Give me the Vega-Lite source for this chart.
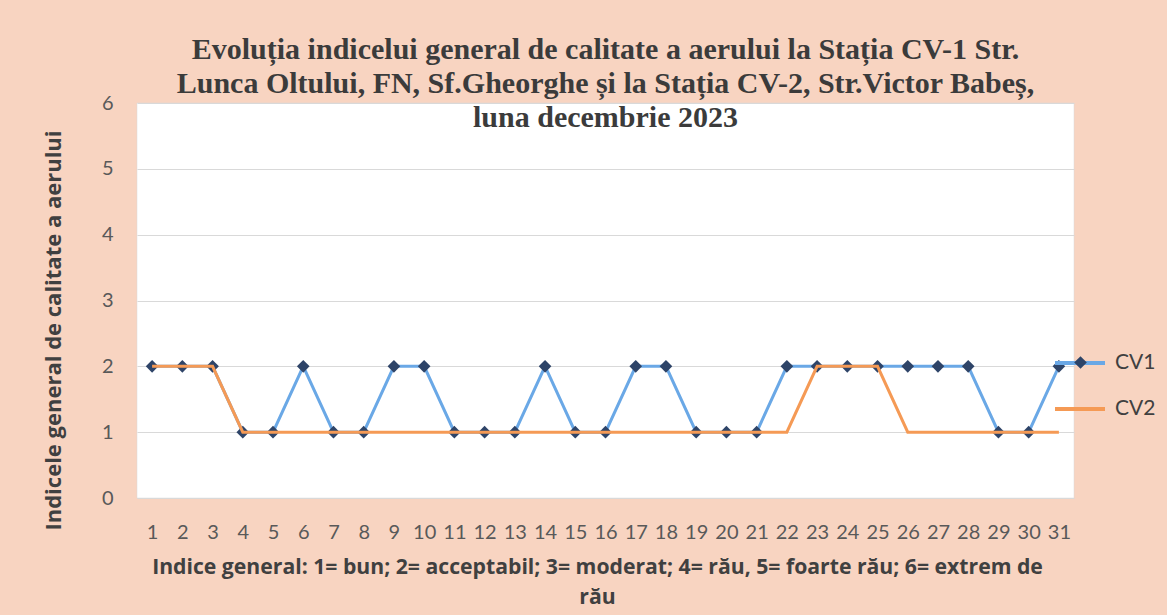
{
  "$schema": "https://vega.github.io/schema/vega-lite/v6.json",
  "autosize": "none",
  "width": 937,
  "height": 395,
  "padding": {"left": 137, "top": 103, "right": 93, "bottom": 117},
  "background": "#F8D4C1",
  "view": {"fill": "white", "stroke": "#d9d9d9", "strokeWidth": 0.5},
  "title": {
    "text": ["Evoluția indicelui general de calitate a aerului la Stația CV-1 Str.", "Lunca Oltului, FN, Sf.Gheorghe și la Stația CV-2, Str.Victor Babeș,", "luna decembrie 2023"],
    "font": "Liberation Serif",
    "fontSize": 30,
    "fontWeight": "bold",
    "color": "#3b3b3b",
    "lineHeight": 34,
    "anchor": "middle",
    "baseline": "top",
    "offset": -40
  },
  "data": {
    "values": [
      {"day": 1, "series": "CV1", "v": 2}, {"day": 2, "series": "CV1", "v": 2}, {"day": 3, "series": "CV1", "v": 2},
      {"day": 4, "series": "CV1", "v": 1}, {"day": 5, "series": "CV1", "v": 1}, {"day": 6, "series": "CV1", "v": 2},
      {"day": 7, "series": "CV1", "v": 1}, {"day": 8, "series": "CV1", "v": 1}, {"day": 9, "series": "CV1", "v": 2},
      {"day": 10, "series": "CV1", "v": 2}, {"day": 11, "series": "CV1", "v": 1}, {"day": 12, "series": "CV1", "v": 1},
      {"day": 13, "series": "CV1", "v": 1}, {"day": 14, "series": "CV1", "v": 2}, {"day": 15, "series": "CV1", "v": 1},
      {"day": 16, "series": "CV1", "v": 1}, {"day": 17, "series": "CV1", "v": 2}, {"day": 18, "series": "CV1", "v": 2},
      {"day": 19, "series": "CV1", "v": 1}, {"day": 20, "series": "CV1", "v": 1}, {"day": 21, "series": "CV1", "v": 1},
      {"day": 22, "series": "CV1", "v": 2}, {"day": 23, "series": "CV1", "v": 2}, {"day": 24, "series": "CV1", "v": 2},
      {"day": 25, "series": "CV1", "v": 2}, {"day": 26, "series": "CV1", "v": 2}, {"day": 27, "series": "CV1", "v": 2},
      {"day": 28, "series": "CV1", "v": 2}, {"day": 29, "series": "CV1", "v": 1}, {"day": 30, "series": "CV1", "v": 1},
      {"day": 31, "series": "CV1", "v": 2},
      {"day": 1, "series": "CV2", "v": 2}, {"day": 2, "series": "CV2", "v": 2}, {"day": 3, "series": "CV2", "v": 2},
      {"day": 4, "series": "CV2", "v": 1}, {"day": 5, "series": "CV2", "v": 1}, {"day": 6, "series": "CV2", "v": 1},
      {"day": 7, "series": "CV2", "v": 1}, {"day": 8, "series": "CV2", "v": 1}, {"day": 9, "series": "CV2", "v": 1},
      {"day": 10, "series": "CV2", "v": 1}, {"day": 11, "series": "CV2", "v": 1}, {"day": 12, "series": "CV2", "v": 1},
      {"day": 13, "series": "CV2", "v": 1}, {"day": 14, "series": "CV2", "v": 1}, {"day": 15, "series": "CV2", "v": 1},
      {"day": 16, "series": "CV2", "v": 1}, {"day": 17, "series": "CV2", "v": 1}, {"day": 18, "series": "CV2", "v": 1},
      {"day": 19, "series": "CV2", "v": 1}, {"day": 20, "series": "CV2", "v": 1}, {"day": 21, "series": "CV2", "v": 1},
      {"day": 22, "series": "CV2", "v": 1}, {"day": 23, "series": "CV2", "v": 2}, {"day": 24, "series": "CV2", "v": 2},
      {"day": 25, "series": "CV2", "v": 2}, {"day": 26, "series": "CV2", "v": 1}, {"day": 27, "series": "CV2", "v": 1},
      {"day": 28, "series": "CV2", "v": 1}, {"day": 29, "series": "CV2", "v": 1}, {"day": 30, "series": "CV2", "v": 1},
      {"day": 31, "series": "CV2", "v": 1}
    ]
  },
  "encoding": {
    "x": {
      "field": "day", "type": "ordinal",
      "scale": {"type": "point", "padding": 0.5},
      "axis": {
        "labelAngle": 0, "labelFont": "Lato", "labelFontSize": 20, "labelColor": "#595959",
        "labelPadding": 24, "ticks": false, "domain": false, "grid": false,
        "title": ["Indice general: 1= bun; 2= acceptabil; 3= moderat; 4= rău, 5= foarte rău; 6= extrem de", "rău"],
        "titleFont": "Open Sans", "titleFontSize": 21.2, "titleFontWeight": "bold", "titleColor": "#404040",
        "titleLineHeight": 30, "titlePadding": 14, "titleX": 460
      }
    },
    "y": {
      "field": "v", "type": "quantitative",
      "scale": {"domain": [0, 6]},
      "axis": {
        "values": [0, 1, 2, 3, 4, 5, 6], "format": "d",
        "labelFont": "Lato", "labelFontSize": 20, "labelColor": "#595959", "labelPadding": 24,
        "ticks": false, "domain": false, "grid": true, "gridColor": "#d9d9d9", "gridWidth": 1,
        "title": "Indicele general  de calitate a aerului",
        "titleFont": "Open Sans", "titleFontSize": 22, "titleFontWeight": "bold", "titleColor": "#404040",
        "titleAngle": -90, "titleX": -84, "titleY": 227, "titleAlign": "center", "titleBaseline": "middle"
      }
    },
    "color": {
      "field": "series", "type": "nominal",
      "scale": {"domain": ["CV1", "CV2"], "range": ["#6AA8E6", "#F59A55"]}
    }
  },
  "layer": [
    {
      "transform": [{"filter": "datum.series == 'CV1'"}],
      "mark": {"type": "line", "strokeWidth": 3},
      "encoding": {
        "color": {
          "field": "series", "type": "nominal",
          "legend": {
            "orient": "none", "legendX": 916, "legendY": 233, "title": null,
            "symbolType": "stroke", "symbolSize": 2500, "symbolStrokeWidth": 4,
            "labelFont": "Lato", "labelFontSize": 21, "labelColor": "#404040", "labelOffset": 8,
            "rowPadding": 9, "values": ["CV1", "CV2"]
          }
        }
      }
    },
    {
      "transform": [{"filter": "datum.series == 'CV1'"}],
      "mark": {"type": "point", "filled": true, "size": 160, "color": "#2E4468", "opacity": 1},
      "encoding": {
        "color": {"value": "#2E4468"},
        "shape": {
          "field": "series", "type": "nominal",
          "scale": {"domain": ["CV1"], "range": ["diamond"]},
          "legend": {
            "orient": "none", "legendX": 933, "legendY": 249, "title": null,
            "symbolSize": 160, "symbolFillColor": "#2E4468", "symbolStrokeColor": "#2E4468",
            "labelFont": "Lato", "labelFontSize": 21, "labelExpr": "''", "values": ["CV1"]
          }
        }
      }
    },
    {
      "transform": [{"filter": "datum.series == 'CV2'"}],
      "mark": {"type": "line", "strokeWidth": 3},
      "encoding": {"color": {"field": "series", "type": "nominal", "legend": null}}
    }
  ]
}
